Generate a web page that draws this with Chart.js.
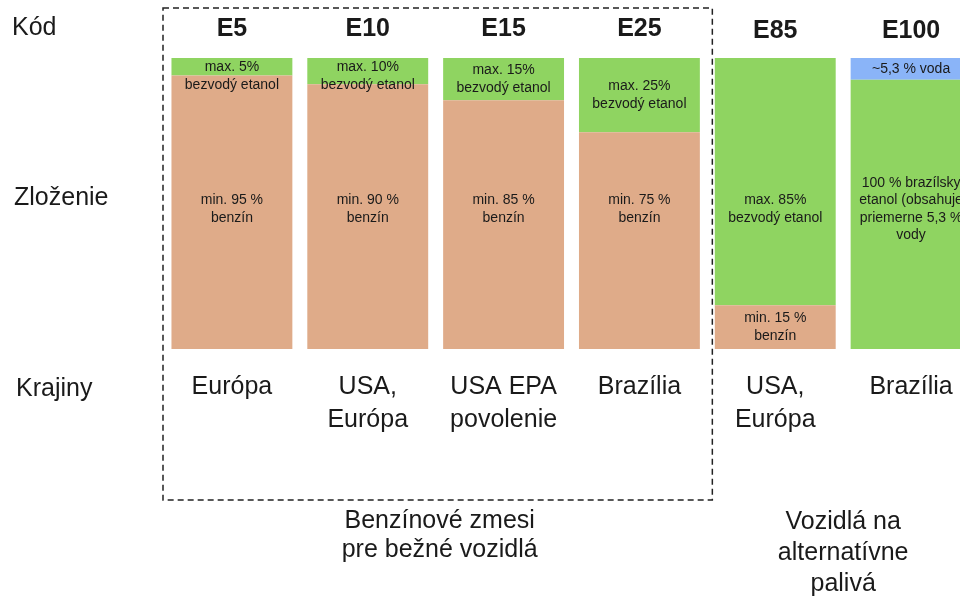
<!DOCTYPE html>
<html>
<head>
<meta charset="utf-8">
<script src="https://cdn.jsdelivr.net/npm/chart.js@4"></script>
<style>
  html, body { margin: 0; padding: 0; background: #fff; overflow: hidden; }
  #wrap { width: 1000px; height: 598px; }
</style>
</head>
<body>
<div id="wrap"><canvas id="fuelChart" width="1000" height="598"></canvas></div>
<script>
// Kódy palív a zloženie (v %), odčítané z obrázka
const codes = ['E5', 'E10', 'E15', 'E25', 'E85', 'E100'];
const benzin = [94, 91, 85.5, 74.5, 15, 0];
const etanol = [6, 9, 14.5, 25.5, 85, 92.5];
const voda = [0, 0, 0, 0, 0, 7.5];

const benzinLabels = [
  ['min. 95 %', 'benzín'], ['min. 90 %', 'benzín'], ['min. 85 %', 'benzín'],
  ['min. 75 %', 'benzín'], ['min. 15 %', 'benzín'], null
];
const etanolLabels = [
  ['max. 5%', 'bezvodý etanol'], ['max. 10%', 'bezvodý etanol'], ['max. 15%', 'bezvodý etanol'],
  ['max. 25%', 'bezvodý etanol'], ['max. 85%', 'bezvodý etanol'],
  ['100 % brazílsky', 'etanol (obsahuje', 'priemerne 5,3 %', 'vody']
];
const vodaLabels = [null, null, null, null, null, ['~5,3 % voda']];

const countries = [['Európa'], ['USA,', 'Európa'], ['USA EPA', 'povolenie'], ['Brazília'], ['USA,', 'Európa'], ['Brazília']];
const rowTitles = ['Kód', 'Zloženie', 'Krajiny'];
const groupTitles = [['Benzínové zmesi', 'pre bežné vozidlá'], ['Vozidlá na', 'alternatívne', 'palivá']];

const FONT = '"Liberation Sans", Arial, sans-serif';

const textPlugin = {
  id: 'fuelText',
  afterDatasetsDraw(chart) {
    const ctx = chart.ctx;
    const xs = chart.scales.x;
    const ys = chart.scales.y;
    const step = xs.getPixelForValue(1) - xs.getPixelForValue(0);
    const midLine = ys.getPixelForValue(48);
    ctx.save();
    ctx.textAlign = 'center';
    ctx.textBaseline = 'middle';
    ctx.fillStyle = '#1a1a1a';

    // popisy v segmentoch: veľké segmenty v strede grafu, malé v strede segmentu
    ctx.font = '14px ' + FONT;
    const lh = 17.5;
    chart.data.datasets.forEach((ds, di) => {
      chart.getDatasetMeta(di).data.forEach((bar, i) => {
        const lines = ds.segLabels[i];
        if (!lines) return;
        const top = Math.min(bar.y, bar.base), bottom = Math.max(bar.y, bar.base);
        let cy = (top + bottom) / 2;
        if (top < midLine - 20 && bottom > midLine + 20) cy = midLine;
        else if (lines.length > 1) cy = Math.max(cy, top + 18);
        lines.forEach((t, k) => {
          ctx.fillText(t, bar.x, cy + (k - (lines.length - 1) / 2) * lh);
        });
      });
    });

    // kódy
    ctx.font = 'bold 25px ' + FONT;
    codes.forEach((c, i) => {
      ctx.fillText(c, xs.getPixelForValue(i), i < 4 ? 29 : 31);
    });

    // krajiny
    ctx.font = '25px ' + FONT;
    countries.forEach((lines, i) => {
      lines.forEach((t, k) => ctx.fillText(t, xs.getPixelForValue(i), 387 + k * 33));
    });

    // názvy riadkov
    ctx.textAlign = 'left';
    ctx.fillText(rowTitles[0], 12, 28);
    ctx.fillText(rowTitles[1], 14, 198);
    ctx.fillText(rowTitles[2], 16, 389);

    // prerušovaný rámik okolo zmesí
    const boxL = xs.getPixelForValue(0) - step / 2 - 1;
    const boxR = xs.getPixelForValue(3) + step / 2 + 5;
    ctx.setLineDash([6, 4]);
    ctx.lineWidth = 1.5;
    ctx.strokeStyle = '#222';
    ctx.strokeRect(boxL, 8, boxR - boxL, 492);
    ctx.setLineDash([]);

    // názvy skupín
    ctx.textAlign = 'center';
    const g1 = (boxL + boxR) / 2 + 2;
    groupTitles[0].forEach((t, k) => ctx.fillText(t, g1, 521 + k * 29));
    const g2 = (xs.getPixelForValue(4) + xs.getPixelForValue(5)) / 2;
    groupTitles[1].forEach((t, k) => ctx.fillText(t, g2, 522 + k * 31));
    ctx.restore();
  }
};

const ctx = document.getElementById('fuelChart').getContext('2d');
const chart = new Chart(ctx, {
  type: 'bar',
  data: {
    labels: codes,
    datasets: [
      { label: 'benzín', data: benzin, backgroundColor: '#dfab89', segLabels: benzinLabels },
      { label: 'etanol', data: etanol, backgroundColor: '#8fd461', segLabels: etanolLabels },
      { label: 'voda', data: voda, backgroundColor: '#8ab4f8', segLabels: vodaLabels }
    ]
  },
  options: {
    responsive: false,
    animation: false,
    layout: { padding: { left: 164, right: 21, top: 58, bottom: 249 } },
    datasets: { bar: { barPercentage: 0.89, categoryPercentage: 1, borderWidth: 0 } },
    scales: {
      x: { stacked: true, display: false, offset: true },
      y: { stacked: true, display: false, min: 0, max: 100 }
    },
    plugins: {
      legend: { display: false },
      tooltip: { enabled: false }
    }
  },
  plugins: [textPlugin]
});
</script>
</body>
</html>
